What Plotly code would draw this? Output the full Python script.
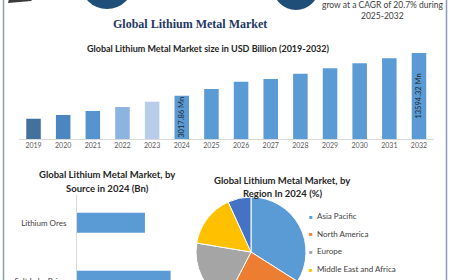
import plotly.graph_objects as go

W, H = 450, 340  # figure is taller than the 280px window; the bottom is cut like the reference

# ---------------- data ----------------
years = [str(y) for y in range(2019, 2033)]
market_size = [1.41, 1.67, 1.95, 2.23, 2.60, 3.02, 3.48, 3.99, 4.18, 4.55, 4.93, 5.28, 5.62, 5.99]
bar_colors = ["#41719c", "#4a86c0", "#5694d0", "#8db3e0", "#b9cdea"] + ["#5b9bd5"] * 9
bar_labels = ["", "", "", "", "", "3017.86 Mn", "", "", "", "", "", "", "", "13594.32 Mn"]

sources = ["Lithium Ores", "Salt Lake Brine"]
source_values = [1.27, 1.75]

regions = ["Asia Pacific", "North America", "Europe", "Middle East and Africa", "South America"]
region_share = [34.0, 23.6, 20.0, 15.6, 6.8]
region_colors = ["#5b9bd5", "#ed7d31", "#a5a5a5", "#ffc000", "#4472c4"]


def px(x):
    return x / W


def py(y):
    return 1 - y / H


FONT = "Lato"

fig = go.Figure()

# main bar chart
fig.add_trace(go.Bar(
    x=years, y=market_size, marker=dict(color=bar_colors, line=dict(width=0)),
    width=0.49, text=bar_labels, textposition="inside", textangle=-90,
    insidetextanchor="middle", constraintext="none", cliponaxis=False,
    insidetextfont=dict(family=FONT, size=7.5, color="#262626"),
    xaxis="x", yaxis="y", showlegend=False, hoverinfo="skip",
))

# source horizontal bars
fig.add_trace(go.Bar(
    y=sources, x=source_values, orientation="h", width=0.345,
    marker=dict(color="#5b9bd5", line=dict(width=0)),
    xaxis="x2", yaxis="y2", showlegend=False, hoverinfo="skip",
))

# region pie
fig.add_trace(go.Pie(
    labels=regions, values=region_share, sort=False, direction="clockwise", rotation=0,
    marker=dict(colors=region_colors, line=dict(color="white", width=1)),
    textinfo="none", showlegend=False, hoverinfo="skip",
    domain=dict(x=[px(196), px(306)], y=[py(307), py(197)]),
))

fig.update_layout(
    width=W, height=H, margin=dict(l=0, r=0, t=0, b=0),
    paper_bgcolor="white", plot_bgcolor="rgba(0,0,0,0)",
    xaxis=dict(domain=[px(18.7), px(433.8)], anchor="y", showgrid=False, zeroline=False,
               showline=True, linecolor="#d9d9d9", linewidth=1, ticks="",
               tickfont=dict(family=FONT, size=7, color="#595959"), fixedrange=True),
    yaxis=dict(domain=[py(139), py(50)], anchor="x", range=[0, 6.2], visible=False),
    xaxis2=dict(domain=[px(77), px(184)], anchor="y2", range=[0, 2.0], visible=False),
    yaxis2=dict(domain=[py(335), py(195)], anchor="x2", range=[1.936, -0.478],
                showgrid=False, zeroline=False, showline=True, linecolor="#d9d9d9",
                linewidth=1, ticks="outside", ticklen=8, tickcolor="rgba(0,0,0,0)",
                tickfont=dict(family=FONT, size=8, color="#404040")),
)

ann = []


def add_text(x, y, text, size, color, family=FONT, xanchor="center"):
    ann.append(dict(x=px(x), y=py(y), xref="paper", yref="paper", text=text, showarrow=False,
                    xanchor=xanchor, yanchor="middle",
                    font=dict(family=family, size=size, color=color)))


add_text(190, 24, "<b>Global Lithium Metal Market</b>", 12, "#1f3864", family="Liberation Serif")
add_text(208, 49, "<b>Global Lithium Metal Market size in USD Billion (2019-2032)</b>", 9, "#262626")
add_text(382, 5, "grow at a CAGR of 20.7% during", 8.5, "#404040")
add_text(382, 16, "2025-2032", 8.5, "#404040")
add_text(197, -3, "Metal Market in 2024", 8.5, "#b0b0b0")
add_text(107, 175, "<b>Global Lithium Metal Market, by</b>", 9.5, "#262626")
add_text(107, 188, "<b>Source in 2024 (Bn)</b>", 9.5, "#262626")
add_text(282, 180, "<b>Global Lithium Metal Market, by</b>", 9.5, "#262626")
add_text(283, 193, "<b>Region In 2024 (%)</b>", 9.5, "#262626")

for i, (name, col) in enumerate(zip(regions, region_colors)):
    yy = 216 + i * 17.7
    add_text(310.5, yy, "■", 6, col)
    add_text(315, yy, name, 8, "#404040", xanchor="left")

shapes = [
    dict(type="line", xref="paper", yref="paper", x0=px(3.5), x1=px(3.5), y0=0, y1=1,
         line=dict(color="#8c9db5", width=1.5)),
    dict(type="line", xref="paper", yref="paper", x0=px(446.5), x1=px(446.5), y0=0, y1=1,
         line=dict(color="#8c9db5", width=1.5)),
    dict(type="circle", xref="paper", yref="paper", x0=px(80.3), x1=px(133.7),
         y0=py(9), y1=py(-44.4), fillcolor="#1f4e79", line=dict(width=0)),
    dict(type="circle", xref="paper", yref="paper", x0=px(273), x1=px(319),
         y0=py(10), y1=py(-36), fillcolor="#1f4e79", line=dict(width=0)),
    dict(type="path", xref="paper", yref="paper",
         path=f"M {px(8)},{py(3)} L {px(9)},{py(-1)} L {px(33)},{py(-1)} L {px(31)},{py(1)} Z",
         fillcolor="#3a3a3a", line=dict(width=0)),
]

fig.update_layout(annotations=ann, shapes=shapes)

fig.write_html("out.html")
